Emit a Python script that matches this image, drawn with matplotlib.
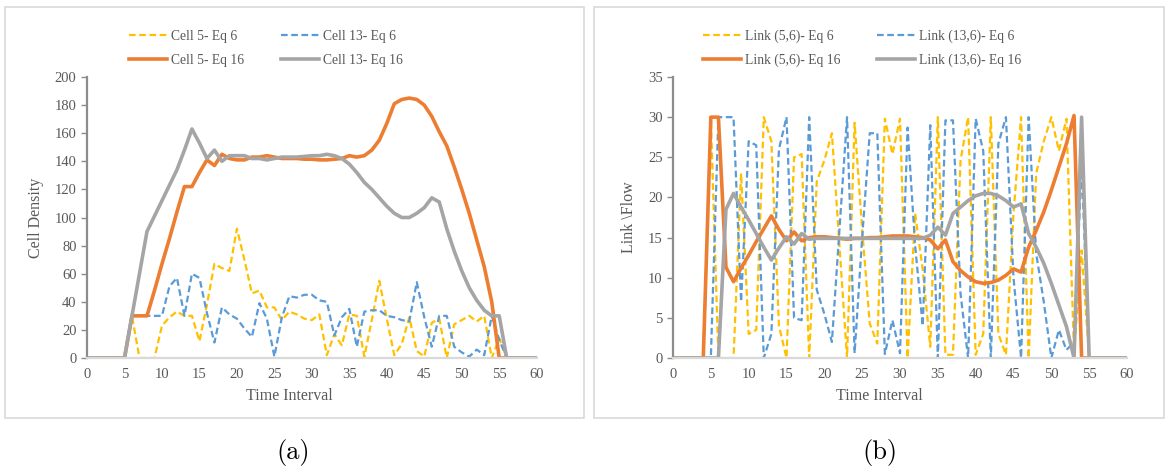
import matplotlib.pyplot as plt
from matplotlib.patches import Rectangle

# time steps shared by both panels
t = list(range(0, 61))

# panel (a): cell density
cell5_eq6 = [0, 0, 0, 0, 0, 0, 30, 0, 0, 0, 23, 29, 33, 30, 30, 12, 38, 67, 64, 62,
             92, 70, 46, 48, 36, 36, 27, 33, 31, 28, 27, 31, 2, 17, 9, 31, 30, 1, 27, 55,
             28, 2, 10, 29, 5, 1, 25, 28, 0, 24, 27, 30, 26, 30, 0, 14, 0, 0, 0, 0, 0]
cell13_eq6 = [0, 0, 0, 0, 0, 0, 30, 30, 30, 30, 30, 51, 57, 30, 60, 57, 32, 11, 36, 31,
              28, 21, 15, 39, 28, 1, 29, 44, 43, 45, 45, 41, 40, 16, 29, 35, 8, 33, 34, 34,
              30, 29, 27, 26, 54, 29, 8, 30, 30, 8, 4, 1, 6, 2, 30, 13, 0, 0, 0, 0, 0]
cell5_eq16 = [0, 0, 0, 0, 0, 0, 30, 30, 30, 48, 67, 85, 104, 122, 122, 132, 141, 137, 145, 142,
              141, 141, 143, 143, 144, 143, 142, 142, 142, 141.5, 141.5, 141, 141, 141.5, 142, 144, 143, 144, 148, 155,
              167, 181, 184, 185, 184, 180, 172, 161, 151, 136, 120, 103, 84, 65, 40, 0, 0, 0, 0, 0, 0]
cell13_eq16 = [0, 0, 0, 0, 0, 0, 30, 60, 90, 101, 112, 123, 134, 148, 163, 153, 142, 148, 140, 144,
               144, 144, 142, 142, 141, 142, 143, 143, 143, 143.5, 144, 144, 145, 144, 142, 138, 132, 125, 120, 114,
               108, 103, 100, 100, 103, 107, 114, 111, 92, 76, 62, 50, 41, 34, 30, 30, 0, 0, 0, 0, 0]

# panel (b): link flow
link56_eq6 = [0, 0, 0, 0, 0, 30, 0, 0, 0, 23, 3, 3.5, 30, 27, 4, 0, 25, 25.4, 0, 22,
              24.6, 28, 14, 0, 29.3, 16, 4.3, 1.8, 29.8, 25.4, 29.8, 0, 18, 11, 1.4, 30, 0.4, 0.4, 24.6, 30,
              0.4, 3, 30, 3, 0.4, 18, 30, 0, 23, 27, 30, 25.8, 29.8, 0.6, 13.4, 0, 0, 0, 0, 0, 0]
link136_eq6 = [0, 0, 0, 0, 0, 0, 30, 30, 30, 7, 27, 26.5, 0, 3, 26, 30, 5, 4.7, 30, 8.5,
               5.5, 2, 16, 30, 0.6, 15, 28, 28, 0.5, 4.7, 0.6, 28.7, 14, 4, 29, 0, 29.6, 29.6, 8, 0,
               29.8, 25.8, 0, 26.7, 30, 10, 0, 30, 13, 7, 0, 3.5, 1, 2, 24, 0, 0, 0, 0, 0, 0]
link56_eq16 = [0, 0, 0, 0, 0, 30, 30, 11.3, 9.5, 11.2, 12.8, 14.5, 16.1, 17.7, 16, 14.6, 15.7, 14.6, 15, 15.1,
               15.1, 15, 14.9, 14.8, 14.9, 14.9, 15, 15, 15.1, 15.2, 15.2, 15.2, 15.1, 15, 14.7, 13.6, 14.7, 12, 10.9, 10.1,
               9.5, 9.3, 9.4, 9.7, 10.3, 11.1, 10.7, 13.8, 15.9, 18.2, 20.9, 23.8, 26.7, 30.2, 0, 0, 0, 0, 0, 0, 0]
link136_eq16 = [0, 0, 0, 0, 0, 0, 0, 18.5, 20.5, 18.8, 17.2, 15.5, 13.8, 12.2, 13.7, 15.1, 14.2, 15.5, 14.8, 14.9,
                14.9, 14.9, 14.9, 14.9, 14.9, 14.9, 14.9, 14.9, 14.9, 14.9, 14.9, 14.9, 14.9, 14.9, 15.3, 16.3, 15.3, 18, 18.8, 19.6,
                20.2, 20.5, 20.5, 20.2, 19.6, 18.8, 19.2, 15.5, 13.8, 11.8, 9.3, 6.6, 3.9, 0, 30, 0, 0, 0, 0, 0, 0]

YEL, BLU, ORG, GRY = '#FFC000', '#5B9BD5', '#ED7D31', '#A5A5A5'
TXT = '#595959'

plt.rcParams['font.family'] = ['Liberation Serif', 'DejaVu Serif']

fig = plt.figure(figsize=(11.68, 4.67), dpi=100)


def panel(rect, series, labels, ymax, ystep, ylabel, legend_x, xlabel_x):
    ax = fig.add_axes(rect)
    styles = [(YEL, '--', 1.6), (BLU, '--', 1.6), (ORG, '-', 2.6), (GRY, '-', 2.6)]
    handles = []
    for ys, lab, (c, ls, lw) in zip(series, labels, styles):
        h, = ax.plot(t, ys, color=c, ls=ls, lw=lw, label=lab)
        if ls == '--':
            h.set_dashes((3.0, 1.6))
        handles.append(h)
    ax.set_xlim(0, 60)
    ax.set_ylim(0, ymax)
    ax.set_xticks(range(0, 61, 5))
    ax.set_yticks(range(0, ymax + 1, ystep))
    for s in ['top', 'right']:
        ax.spines[s].set_visible(False)
    ax.spines['left'].set_color('#8c8c8c')
    ax.spines['left'].set_linewidth(1.6)
    ax.spines['bottom'].set_color('#d9d9d9')
    ax.spines['bottom'].set_linewidth(1.6)
    ax.tick_params(axis='y', colors=TXT, labelsize=10.5, length=4, width=1, direction='out')
    ax.tick_params(axis='y', color='#8c8c8c')
    ax.tick_params(axis='x', colors=TXT, labelsize=10.5, length=0, pad=7)
    ax.set_xlabel('Time Interval', color=TXT, fontsize=11.5)
    ax.xaxis.set_label_coords(xlabel_x, -0.105)
    ax.set_ylabel(ylabel, color=TXT, fontsize=11.5, labelpad=8)
    # legend in two rows above the plot, Excel style
    order = [handles[0], handles[2], handles[1], handles[3]]
    fig.legend(order, [h.get_label() for h in order], loc='center',
               bbox_to_anchor=(legend_x, 0.897), ncol=2, frameon=False,
               fontsize=9.8, handlelength=2.8, columnspacing=2.7,
               labelspacing=0.8, handletextpad=0.3, labelcolor=TXT)
    return ax


panel([0.0745, 0.2334, 0.385, 0.6017],
      [cell5_eq6, cell13_eq6, cell5_eq16, cell13_eq16],
      ['Cell 5- Eq 6', 'Cell 13- Eq 6', 'Cell 5- Eq 16', 'Cell 13- Eq 16'],
      200, 20, 'Cell Density', 0.228, (290 - 87) / 450)

panel([0.5762, 0.2334, 0.3887, 0.6017],
      [link56_eq6, link136_eq6, link56_eq16, link136_eq16],
      ['Link (5,6)- Eq 6', 'Link (13,6)- Eq 6', 'Link (5,6)- Eq 16', 'Link (13,6)- Eq 16'],
      35, 5, 'Link \\Flow', 0.738, (879 - 673) / 454)

# chart borders
W, H = 1168, 467
for x0, x1 in [(5, 584), (594, 1164)]:
    fig.patches.append(Rectangle((x0 / W, 1 - 418 / H), (x1 - x0) / W, (418 - 7) / H,
                                 transform=fig.transFigure, fill=False,
                                 edgecolor='#d9d9d9', lw=1.2))

fig.text(293 / W, 1 - 452 / H, '(a)', ha='center', va='center', fontsize=19, family='cmr10')
fig.text(880 / W, 1 - 452 / H, '(b)', ha='center', va='center', fontsize=19, family='cmr10')

fig.savefig('out.png', dpi=100)
